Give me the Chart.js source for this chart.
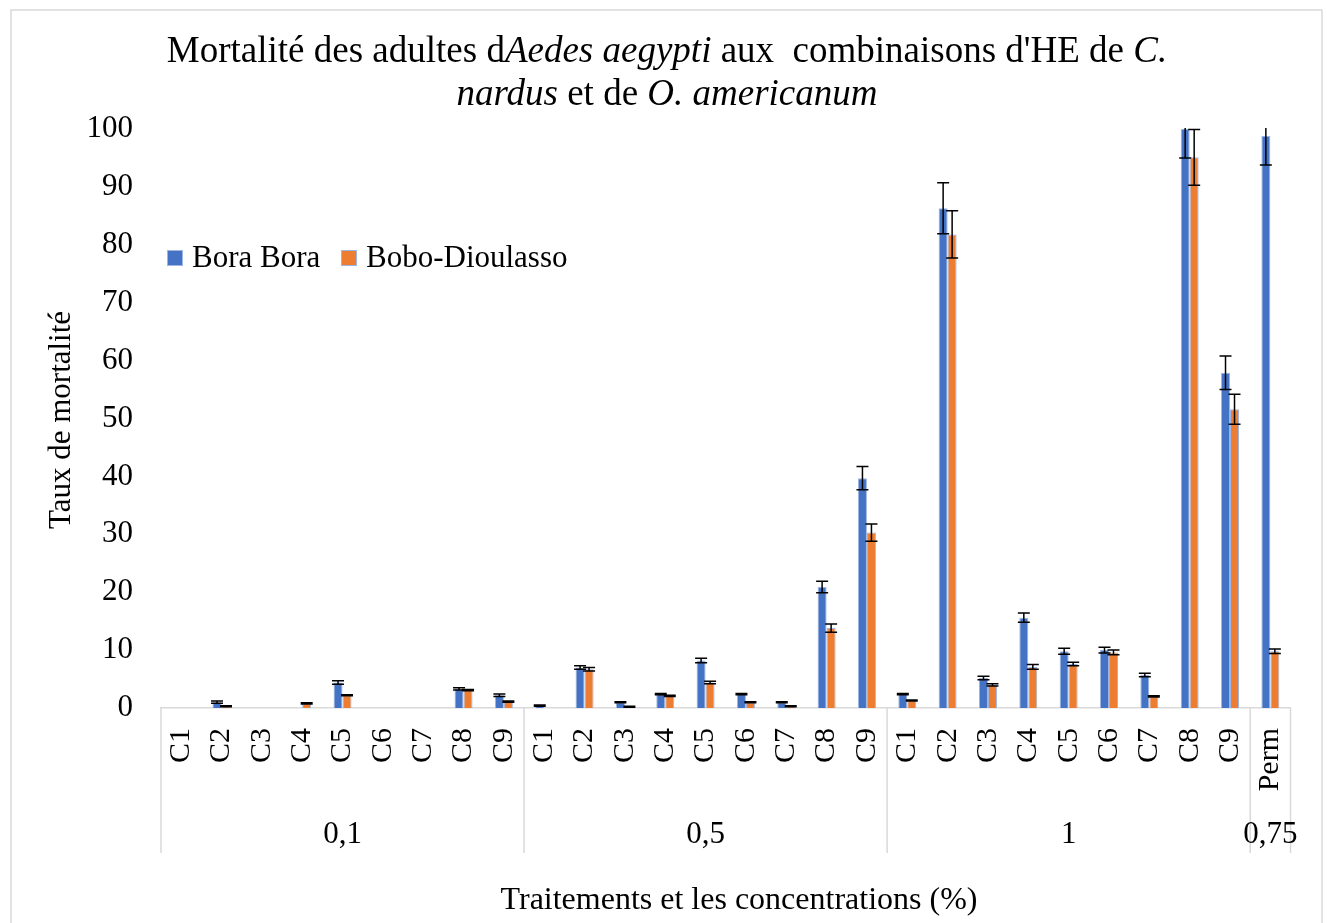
<!DOCTYPE html>
<html>
<head>
<meta charset="utf-8">
<script src="https://cdn.jsdelivr.net/npm/chart.js@4/dist/chart.umd.min.js"></script>
<style>
body{margin:0;background:#fff;overflow:hidden}
#wrap{width:1327px;height:923px;position:relative}
</style>
</head>
<body>
<div id="wrap"><canvas id="chart"></canvas></div>
<script>
// categories (first level) and groups (concentrations, second level)
const labels = ['C1','C2','C3','C4','C5','C6','C7','C8','C9',
  'C1','C2','C3','C4','C5','C6','C7','C8','C9',
  'C1','C2','C3','C4','C5','C6','C7','C8','C9',
  'Perm']
const groups = ['0,1','0,5','1','0,75']
const groupSizes = [9,9,9,1]

// mortality rates (%)
const boraBora = [0,1.0,0,0,4.4,0,0,3.3,2.2,
  0.4,7.0,1.0,2.4,8.2,2.4,1.0,20.9,39.7,
  2.4,86.3,5.2,15.6,9.8,10.0,5.7,100,57.9,
  98.8]
const boboDioulasso = [0,0.3,0,0.8,2.2,0,0,3.1,1.1,
  0,6.7,0.2,2.1,4.4,1.0,0.3,13.8,30.3,
  1.3,81.8,4.0,7.1,7.6,9.6,2.0,95.1,51.6,
  9.8]

// error bar half widths
const boraErr = [0,0.2,0,0,0.3,0,0,0.2,0.2,
  0.1,0.3,0.1,0.1,0.4,0.1,0.1,1.0,2.0,
  0.1,4.4,0.3,0.8,0.5,0.5,0.3,5.0,2.9,
  5.0]
const boboErr = [0,0.1,0,0.1,0.1,0,0,0.1,0.1,
  0,0.3,0.1,0.1,0.2,0.1,0.1,0.7,1.5,
  0.1,4.1,0.2,0.4,0.3,0.4,0.1,4.8,2.6,
  0.4]

const yTicks = [0,10,20,30,40,50,60,70,80,90,100]

const SERIF = "'Liberation Serif', 'Times New Roman', serif"
const BLUE = '#4472C4'
const ORANGE = '#ED7D31'
const EDGE = '#9db5e0'
const LINE = '#d9d9d9'

/* ===== error bars ===== */
const errorBars = {
  id:'errorBars',
  afterDatasetsDraw(chart){
    const c = chart.ctx
    const y = chart.scales.y
    const area = chart.chartArea
    const errs = [boraErr, boboErr]
    c.save()
    c.beginPath()
    c.rect(area.left, area.top - 1, area.right - area.left, area.bottom - area.top + 1)
    c.clip()
    c.strokeStyle = '#000'
    c.lineWidth = 1.5
    chart.data.datasets.forEach((ds,di)=>{
      const meta = chart.getDatasetMeta(di)
      meta.data.forEach((bar,i)=>{
        const e = errs[di][i]
        if(!e) return
        const v = ds.data[i]
        const yt = y.getPixelForValue(v + e)
        const yb = y.getPixelForValue(v - e)
        c.beginPath()
        c.moveTo(bar.x, yt); c.lineTo(bar.x, yb)
        c.moveTo(bar.x - 6, yt); c.lineTo(bar.x + 6, yt)
        c.moveTo(bar.x - 6, yb); c.lineTo(bar.x + 6, yb)
        c.stroke()
      })
    })
    c.restore()
  }
}

/* ===== frame, titles, legend, second level of the x axis ===== */
const decor = {
  id:'decor',
  beforeDraw(chart){
    const c = chart.ctx
    c.save()
    c.fillStyle = '#fff'
    c.fillRect(0,0,chart.width,chart.height)
    c.strokeStyle = LINE
    c.lineWidth = 1.5
    c.strokeRect(11, 10, 1311, 940)
    c.restore()
  },
  afterDraw(chart){
    const c = chart.ctx
    const x = chart.scales.x
    const area = chart.chartArea
    c.save()

    // group separators
    let bounds = [x.left]
    let idx = 0
    groupSizes.forEach((n,g)=>{
      idx += n
      if(idx < labels.length)
        bounds.push((x.getPixelForValue(idx-1) + x.getPixelForValue(idx)) / 2)
    })
    bounds.push(x.right)
    c.strokeStyle = LINE
    c.lineWidth = 1.5
    bounds.forEach(b=>{
      c.beginPath()
      c.moveTo(b, area.bottom)
      c.lineTo(b, 853)
      c.stroke()
    })

    // group labels
    c.fillStyle = '#000'
    c.font = '31px ' + SERIF
    c.textAlign = 'center'
    c.textBaseline = 'middle'
    groups.forEach((g,i)=>{
      c.fillText(g, (bounds[i] + bounds[i+1]) / 2, 835)
    })

    // title with italic species names
    const lines = [
      [['Mortalité des adultes d',false],['Aedes aegypti',true],[" aux  combinaisons d'HE de ",false],['C.',true]],
      [['nardus',true],[' et de ',false],['O. americanum',true]]
    ]
    const base = [62, 105]
    c.textAlign = 'left'
    c.textBaseline = 'alphabetic'
    lines.forEach((parts,li)=>{
      let w = 0
      parts.forEach(p=>{
        c.font = (p[1] ? 'italic ' : '') + '37px ' + SERIF
        w += c.measureText(p[0]).width
      })
      let px = 667 - w / 2
      parts.forEach(p=>{
        c.font = (p[1] ? 'italic ' : '') + '37px ' + SERIF
        c.fillText(p[0], px, base[li])
        px += c.measureText(p[0]).width
      })
    })

    // axis titles
    c.font = '32px ' + SERIF
    c.textAlign = 'center'
    c.textBaseline = 'middle'
    c.fillText('Traitements et les concentrations (%)', 739, 901)
    c.font = '31px ' + SERIF
    c.save()
    c.translate(62, 420)
    c.rotate(-Math.PI / 2)
    c.fillText('Taux de mortalité', 0, 0)
    c.restore()

    // legend
    c.font = '31px ' + SERIF
    c.textAlign = 'left'
    const items = [[chart.data.datasets[0], 167], [chart.data.datasets[1], 341]]
    items.forEach(it=>{
      c.fillStyle = it[0].backgroundColor
      c.fillRect(it[1], 250, 16, 16)
      c.strokeStyle = EDGE
      c.lineWidth = 1
      c.strokeRect(it[1] + 0.5, 250.5, 15, 15)
      c.fillStyle = '#000'
      c.fillText(it[0].label, it[1] + 25, 259)
    })
    c.restore()
  }
}

new Chart(document.getElementById('chart'), {
  type:'bar',
  data:{
    labels:labels,
    datasets:[
      {label:'Bora Bora', data:boraBora, backgroundColor:BLUE, borderColor:EDGE, borderWidth:1},
      {label:'Bobo-Dioulasso', data:boboDioulasso, backgroundColor:ORANGE, borderColor:EDGE, borderWidth:1}
    ]
  },
  options:{
    responsive:true,
    maintainAspectRatio:false,
    animation:false,
    datasets:{bar:{categoryPercentage:0.446, barPercentage:1}},
    layout:{padding:{left:0, top:129, right:36, bottom:0}},
    plugins:{legend:{display:false}, title:{display:false}, tooltip:{enabled:false}},
    scales:{
      x:{
        grid:{display:false, drawTicks:false},
        border:{display:true, color:LINE, width:1.5},
        ticks:{autoSkip:false, minRotation:90, maxRotation:90, padding:20, color:'#000', font:{family:SERIF, size:30}},
        afterFit:s=>{ s.height = 215 }
      },
      y:{
        min:0, max:100,
        grid:{display:false, drawTicks:false},
        border:{display:false},
        afterBuildTicks:s=>{ s.ticks = yTicks.map(v=>({value:v})) },
        ticks:{padding:28, color:'#000', font:{family:SERIF, size:31}},
        afterFit:s=>{ s.width = 161 }
      }
    }
  },
  plugins:[decor, errorBars]
})
</script>
</body>
</html>
